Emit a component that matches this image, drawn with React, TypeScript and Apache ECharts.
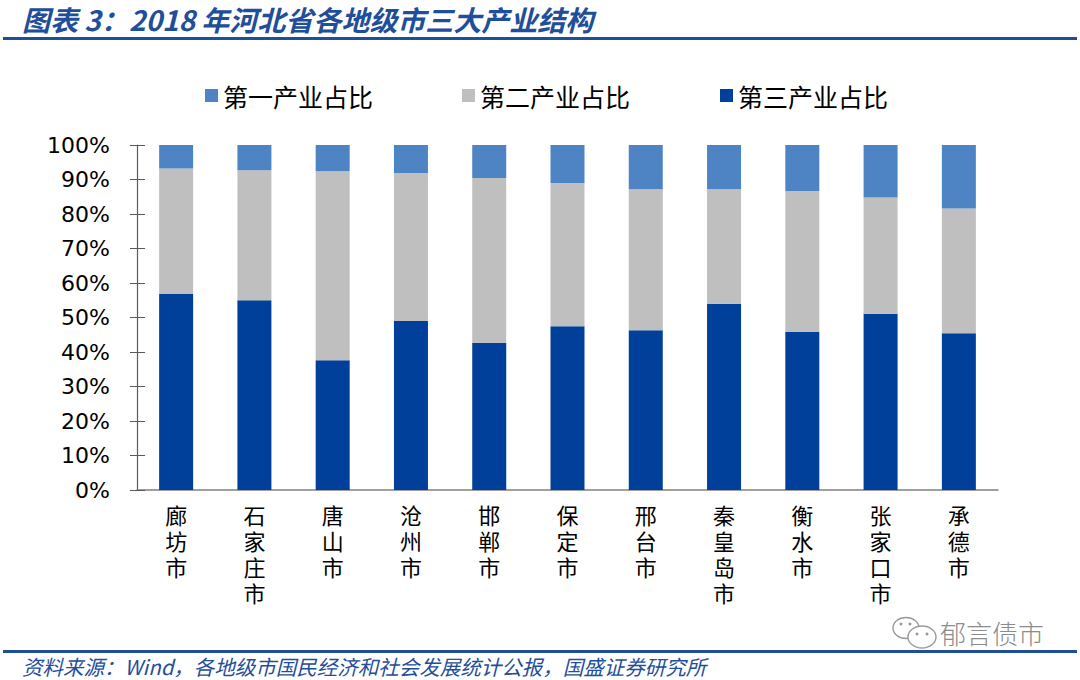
import React, { useEffect, useRef } from "react";
import * as echarts from "echarts";

const categories = ["廊坊市", "石家庄市", "唐山市", "沧州市", "邯郸市", "保定市", "邢台市", "秦皇岛市", "衡水市", "张家口市", "承德市"];
const primaryShare = [6.8, 7.3, 7.6, 8.1, 9.6, 11.0, 12.8, 12.8, 13.3, 15.2, 18.4];
const secondaryShare = [36.4, 37.7, 54.8, 42.9, 47.7, 41.5, 40.9, 33.2, 40.8, 33.7, 36.2];
const tertiaryShare = [56.8, 55.0, 37.6, 49.0, 42.7, 47.5, 46.3, 54.0, 45.9, 51.1, 45.4];
const seriesNames = ["第一产业占比", "第二产业占比", "第三产业占比"];

const TITLE = "图表 3：2018 年河北省各地级市三大产业结构";
const SOURCE = "资料来源：Wind，各地级市国民经济和社会发展统计公报，国盛证券研究所";
const WATERMARK = "郁言债市";

const C1 = "#4F84C4";
const C2 = "#BFBFBF";
const C3 = "#00409A";
const NAVY = "#1F4E9A";
const CJK = '"Noto Sans CJK SC", "Noto Sans", sans-serif';

export default function App() {
  const ref = useRef<HTMLDivElement>(null);
  useEffect(() => {
    if (!ref.current) return;
    const chart = echarts.init(ref.current, null, { renderer: "svg" });
    const legendCommon = {
      itemWidth: 13,
      itemHeight: 13,
      icon: "rect",
      top: 78,
      textStyle: { fontFamily: CJK, fontSize: 25, color: "#000" },
    };
    chart.setOption({
      animation: false,
      backgroundColor: "#fff",
      legend: [
        { ...legendCommon, left: 200, data: [seriesNames[0]] },
        { ...legendCommon, left: 457, data: [seriesNames[1]] },
        { ...legendCommon, left: 715, data: [seriesNames[2]] },
      ],
      grid: { left: 137, right: 82, top: 145, bottom: 190, containLabel: false },
      xAxis: {
        type: "category",
        data: categories,
        axisTick: { show: false },
        axisLine: { lineStyle: { color: "#808080", width: 1.5 } },
        axisLabel: {
          interval: 0,
          margin: 13,
          fontFamily: '"Liberation Sans", "Noto Sans CJK SC", sans-serif',
          fontSize: 22,
          lineHeight: 26,
          color: "#000",
          formatter: (v: string) => v.split("").join("\n"),
        },
      },
      yAxis: [
        {
          type: "value",
          min: 0,
          max: 100,
          interval: 10,
          axisLine: { show: true, lineStyle: { color: "#595959", width: 1.2 } },
          axisTick: { show: true, length: 7, lineStyle: { color: "#595959" } },
          splitLine: { show: false },
          axisLabel: {
            margin: 27,
            fontFamily: '"DejaVu Sans", sans-serif',
            fontSize: 22,
            color: "#000",
            formatter: "{value}%",
          },
        },
        {
          type: "value",
          min: 0,
          max: 100,
          interval: 10,
          position: "left",
          axisLine: { show: false },
          axisTick: { show: true, inside: true, length: 8, lineStyle: { color: "#595959" } },
          splitLine: { show: false },
          axisLabel: { show: false },
        },
      ],
      series: [
        { name: seriesNames[2], type: "bar", stack: "s", barWidth: 34, data: tertiaryShare, itemStyle: { color: C3 } },
        { name: seriesNames[1], type: "bar", stack: "s", barWidth: 34, data: secondaryShare, itemStyle: { color: C2 } },
        { name: seriesNames[0], type: "bar", stack: "s", barWidth: 34, data: primaryShare, itemStyle: { color: C1 } },
      ],
      graphic: [
        {
          type: "text",
          x: 22,
          y: 19,
          style: {
            text: TITLE,
            font: `italic bold 28px ${CJK}`,
            fill: NAVY,
            textVerticalAlign: "middle",
            verticalAlign: "middle",
          },
        },
        { type: "rect", shape: { x: 3, y: 37, width: 1074, height: 3 }, style: { fill: NAVY } },
        { type: "rect", shape: { x: 3, y: 650, width: 1074, height: 3 }, style: { fill: NAVY } },
        {
          type: "text",
          x: 22,
          y: 666,
          style: {
            text: SOURCE,
            font: `italic 20.5px ${CJK}`,
            fill: NAVY,
            textVerticalAlign: "middle",
            verticalAlign: "middle",
          },
        },
        {
          type: "text",
          x: 940,
          y: 632,
          style: {
            text: WATERMARK,
            font: `300 26px ${CJK}`,
            fill: "#8c8c8c",
            textVerticalAlign: "middle",
            verticalAlign: "middle",
          },
        },
        {
          type: "group",
          children: [
            { type: "ellipse", shape: { cx: 906, cy: 628, rx: 13, ry: 10.5 }, style: { fill: "#fff", stroke: "#9a9a9a", lineWidth: 1.4 } },
            { type: "circle", shape: { cx: 901, cy: 624, r: 1.5 }, style: { fill: "#9a9a9a" } },
            { type: "circle", shape: { cx: 910, cy: 624, r: 1.5 }, style: { fill: "#9a9a9a" } },
            { type: "ellipse", shape: { cx: 922, cy: 637, rx: 14, ry: 11 }, style: { fill: "#fff", stroke: "#9a9a9a", lineWidth: 1.4 } },
            { type: "circle", shape: { cx: 917, cy: 634, r: 1.5 }, style: { fill: "#9a9a9a" } },
            { type: "circle", shape: { cx: 927, cy: 634, r: 1.5 }, style: { fill: "#9a9a9a" } },
          ],
        },
      ],
    });
    return () => chart.dispose();
  }, []);
  return (
    <div
      ref={ref}
      style={{ position: "fixed", left: 0, top: 0, width: 1080, height: 680, background: "#fff" }}
    />
  );
}
